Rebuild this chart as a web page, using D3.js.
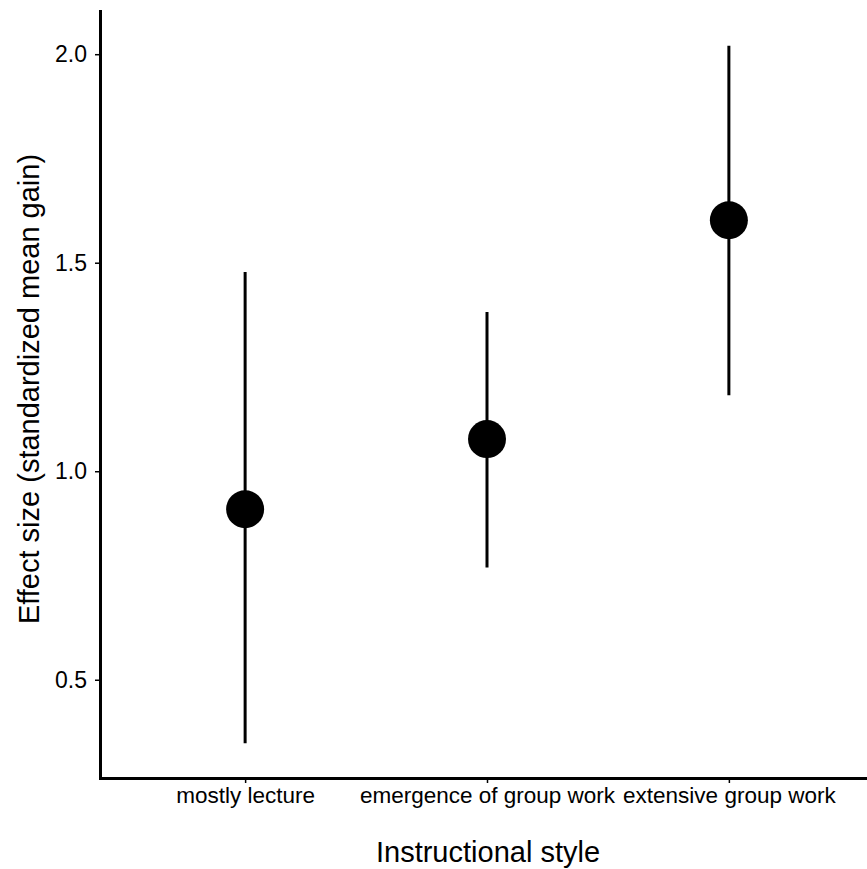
<!DOCTYPE html>
<html lang="en">
<head>
<meta charset="utf-8">
<title>Effect size by instructional style</title>
<script src="https://d3js.org/d3.v7.min.js"></script>
<style>
  body { margin: 0; background: #fff; }
  text { font-family: "Liberation Sans", Arial, Helvetica, sans-serif; fill: #000; }
</style>
</head>
<body>
<div id="chart"></div>
<script>
// data
var styles = ["mostly lecture", "emergence of group work", "extensive group work"];
var effect = [0.909, 1.077, 1.602];
var lower  = [0.348, 0.769, 1.182];
var upper  = [1.478, 1.382, 2.020];
var yTicks = [0.5, 1.0, 1.5, 2.0];

var W = 867, H = 869;
var margin = {top: 11, left: 100, bottom: 91};

var svg = d3.select("#chart").append("svg")
  .attr("width", W).attr("height", H);

// discrete axis, ggplot-style 0.6 expansion; the panel runs past the right edge
var x = d3.scalePoint().domain(styles).range([margin.left, 874]).padding(0.6);

var lo = d3.min(lower), hi = d3.max(upper), pad = (hi - lo) * 0.05;
var y = d3.scaleLinear().domain([lo - pad, hi + pad]).range([H - margin.bottom, margin.top]);

// error bars
svg.selectAll("line.err").data(styles).enter().append("line")
  .attr("class", "err")
  .attr("x1", function(d) { return x(d); })
  .attr("x2", function(d) { return x(d); })
  .attr("y1", function(d, i) { return y(lower[i]); })
  .attr("y2", function(d, i) { return y(upper[i]); })
  .attr("stroke", "#000").attr("stroke-width", 3);

// points
svg.selectAll("circle.pt").data(styles).enter().append("circle")
  .attr("class", "pt")
  .attr("cx", function(d) { return x(d); })
  .attr("cy", function(d, i) { return y(effect[i]); })
  .attr("r", 19)
  .attr("fill", "#000");

// axes
var yAxis = svg.append("g")
  .attr("transform", "translate(" + margin.left + ",0)")
  .call(d3.axisLeft(y).tickValues(yTicks).tickFormat(d3.format(".1f"))
    .tickSize(5).tickSizeOuter(0).tickPadding(8));
var xAxis = svg.append("g")
  .attr("transform", "translate(0," + (H - margin.bottom) + ")")
  .call(d3.axisBottom(x).tickSize(5).tickSizeOuter(0).tickPadding(4));

[yAxis, xAxis].forEach(function(g) {
  g.select(".domain").attr("stroke", "#000").attr("stroke-width", 3).attr("stroke-linecap", "square");
  g.selectAll(".tick line").attr("stroke", "#000").attr("stroke-width", 1.5);
  g.selectAll("text").attr("font-family", "Liberation Sans, Arial, sans-serif").attr("fill", "#000");
});
yAxis.selectAll("text").attr("font-size", "23px");
xAxis.selectAll("text").attr("font-size", "22.5px");

// axis titles
svg.append("text")
  .attr("x", 488).attr("y", 862)
  .attr("text-anchor", "middle").attr("font-size", "29px")
  .text("Instructional style");

svg.append("text")
  .attr("transform", "translate(39,389) rotate(-90)")
  .attr("text-anchor", "middle").attr("font-size", "29px")
  .text("Effect size (standardized mean gain)");
</script>
</body>
</html>
